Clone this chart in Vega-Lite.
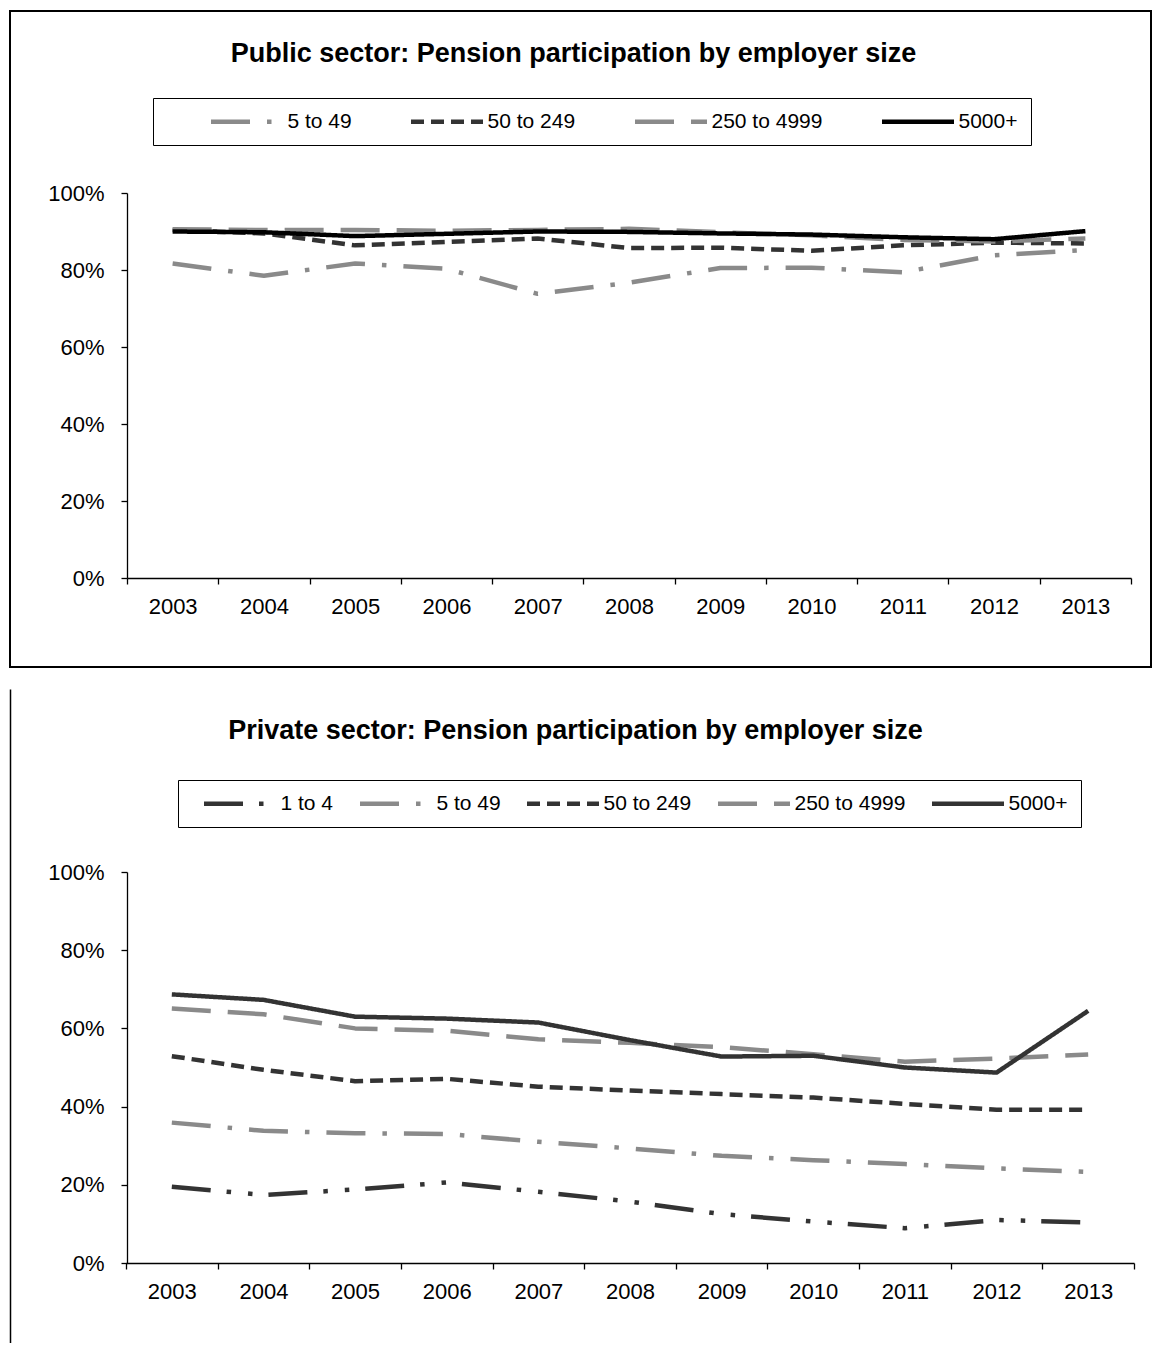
{
  "$schema": "https://vega.github.io/schema/vega-lite/v6.json",
  "background": "white",
  "padding": {"left": 9, "top": 10, "right": 0, "bottom": 0},
  "spacing": 21,
  "resolve": {"scale": {"color": "independent", "strokeDash": "independent"}, "legend": {"color": "independent", "strokeDash": "independent"}},
  "config": {"font": "Liberation Sans"},
  "datasets": {
    "public": [
      {"year": 2003, "size": "5 to 49", "pct": 81.7}, {"year": 2004, "size": "5 to 49", "pct": 78.5}, {"year": 2005, "size": "5 to 49", "pct": 81.7}, {"year": 2006, "size": "5 to 49", "pct": 80.3}, {"year": 2007, "size": "5 to 49", "pct": 73.8}, {"year": 2008, "size": "5 to 49", "pct": 76.7}, {"year": 2009, "size": "5 to 49", "pct": 80.5}, {"year": 2010, "size": "5 to 49", "pct": 80.6}, {"year": 2011, "size": "5 to 49", "pct": 79.4}, {"year": 2012, "size": "5 to 49", "pct": 83.8}, {"year": 2013, "size": "5 to 49", "pct": 85.2},
      {"year": 2003, "size": "50 to 249", "pct": 90.4}, {"year": 2004, "size": "50 to 249", "pct": 89.5}, {"year": 2005, "size": "50 to 249", "pct": 86.4}, {"year": 2006, "size": "50 to 249", "pct": 87.3}, {"year": 2007, "size": "50 to 249", "pct": 88.2}, {"year": 2008, "size": "50 to 249", "pct": 85.7}, {"year": 2009, "size": "50 to 249", "pct": 85.8}, {"year": 2010, "size": "50 to 249", "pct": 85.0}, {"year": 2011, "size": "50 to 249", "pct": 86.4}, {"year": 2012, "size": "50 to 249", "pct": 87.1}, {"year": 2013, "size": "50 to 249", "pct": 86.9},
      {"year": 2003, "size": "250 to 4999", "pct": 90.6}, {"year": 2004, "size": "250 to 4999", "pct": 90.4}, {"year": 2005, "size": "250 to 4999", "pct": 90.4}, {"year": 2006, "size": "250 to 4999", "pct": 90.2}, {"year": 2007, "size": "250 to 4999", "pct": 90.4}, {"year": 2008, "size": "250 to 4999", "pct": 90.7}, {"year": 2009, "size": "250 to 4999", "pct": 89.8}, {"year": 2010, "size": "250 to 4999", "pct": 89.0}, {"year": 2011, "size": "250 to 4999", "pct": 87.8}, {"year": 2012, "size": "250 to 4999", "pct": 87.4}, {"year": 2013, "size": "250 to 4999", "pct": 88.2},
      {"year": 2003, "size": "5000+", "pct": 90.0}, {"year": 2004, "size": "5000+", "pct": 89.8}, {"year": 2005, "size": "5000+", "pct": 88.8}, {"year": 2006, "size": "5000+", "pct": 89.4}, {"year": 2007, "size": "5000+", "pct": 90.0}, {"year": 2008, "size": "5000+", "pct": 89.9}, {"year": 2009, "size": "5000+", "pct": 89.5}, {"year": 2010, "size": "5000+", "pct": 89.2}, {"year": 2011, "size": "5000+", "pct": 88.5}, {"year": 2012, "size": "5000+", "pct": 88.0}, {"year": 2013, "size": "5000+", "pct": 90.1}
    ],
    "private": [
      {"year": 2003, "size": "1 to 4", "pct": 19.5}, {"year": 2004, "size": "1 to 4", "pct": 17.4}, {"year": 2005, "size": "1 to 4", "pct": 18.8}, {"year": 2006, "size": "1 to 4", "pct": 20.6}, {"year": 2007, "size": "1 to 4", "pct": 18.2}, {"year": 2008, "size": "1 to 4", "pct": 15.7}, {"year": 2009, "size": "1 to 4", "pct": 12.5}, {"year": 2010, "size": "1 to 4", "pct": 10.6}, {"year": 2011, "size": "1 to 4", "pct": 8.9}, {"year": 2012, "size": "1 to 4", "pct": 11.0}, {"year": 2013, "size": "1 to 4", "pct": 10.4},
      {"year": 2003, "size": "5 to 49", "pct": 35.9}, {"year": 2004, "size": "5 to 49", "pct": 33.8}, {"year": 2005, "size": "5 to 49", "pct": 33.2}, {"year": 2006, "size": "5 to 49", "pct": 33.0}, {"year": 2007, "size": "5 to 49", "pct": 31.0}, {"year": 2008, "size": "5 to 49", "pct": 29.3}, {"year": 2009, "size": "5 to 49", "pct": 27.4}, {"year": 2010, "size": "5 to 49", "pct": 26.3}, {"year": 2011, "size": "5 to 49", "pct": 25.3}, {"year": 2012, "size": "5 to 49", "pct": 24.2}, {"year": 2013, "size": "5 to 49", "pct": 23.3},
      {"year": 2003, "size": "50 to 249", "pct": 52.9}, {"year": 2004, "size": "50 to 249", "pct": 49.4}, {"year": 2005, "size": "50 to 249", "pct": 46.5}, {"year": 2006, "size": "50 to 249", "pct": 47.1}, {"year": 2007, "size": "50 to 249", "pct": 45.1}, {"year": 2008, "size": "50 to 249", "pct": 44.1}, {"year": 2009, "size": "50 to 249", "pct": 43.2}, {"year": 2010, "size": "50 to 249", "pct": 42.3}, {"year": 2011, "size": "50 to 249", "pct": 40.7}, {"year": 2012, "size": "50 to 249", "pct": 39.2}, {"year": 2013, "size": "50 to 249", "pct": 39.2},
      {"year": 2003, "size": "250 to 4999", "pct": 65.1}, {"year": 2004, "size": "250 to 4999", "pct": 63.6}, {"year": 2005, "size": "250 to 4999", "pct": 60.0}, {"year": 2006, "size": "250 to 4999", "pct": 59.4}, {"year": 2007, "size": "250 to 4999", "pct": 57.2}, {"year": 2008, "size": "250 to 4999", "pct": 56.3}, {"year": 2009, "size": "250 to 4999", "pct": 55.2}, {"year": 2010, "size": "250 to 4999", "pct": 53.4}, {"year": 2011, "size": "250 to 4999", "pct": 51.5}, {"year": 2012, "size": "250 to 4999", "pct": 52.3}, {"year": 2013, "size": "250 to 4999", "pct": 53.3},
      {"year": 2003, "size": "5000+", "pct": 68.7}, {"year": 2004, "size": "5000+", "pct": 67.3}, {"year": 2005, "size": "5000+", "pct": 63.0}, {"year": 2006, "size": "5000+", "pct": 62.5}, {"year": 2007, "size": "5000+", "pct": 61.5}, {"year": 2008, "size": "5000+", "pct": 57.0}, {"year": 2009, "size": "5000+", "pct": 52.8}, {"year": 2010, "size": "5000+", "pct": 53.0}, {"year": 2011, "size": "5000+", "pct": 50.0}, {"year": 2012, "size": "5000+", "pct": 48.7}, {"year": 2013, "size": "5000+", "pct": 64.5}
    ]
  },
  "vconcat": [
    {
      "width": 1141,
      "height": 656,
      "view": {"stroke": "#000000", "strokeWidth": 2},
      "title": {"text": "Public sector: Pension participation by employer size", "fontSize": 27, "fontWeight": "bold", "color": "#000000", "anchor": "middle", "frame": "group", "baseline": "alphabetic", "offset": -78, "dx": -7},
      "data": {"name": "public"},
      "mark": {"type": "line", "strokeWidth": 4.5, "strokeCap": "butt", "strokeJoin": "round"},
      "encoding": {
        "x": {
          "field": "year", "type": "quantitative",
          "scale": {"domain": [2002.5, 2013.5], "range": [117, 1121], "nice": false, "zero": false},
          "axis": {"orient": "bottom", "offset": -89, "title": null, "grid": false,
            "values": [2002.5, 2003, 2003.5, 2004, 2004.5, 2005, 2005.5, 2006, 2006.5, 2007, 2007.5, 2008, 2008.5, 2009, 2009.5, 2010, 2010.5, 2011, 2011.5, 2012, 2012.5, 2013, 2013.5],
            "labelExpr": "datum.value % 1 === 0 ? datum.value : ''",
            "tickOpacity": {"condition": {"test": "datum.value % 1 === 0", "value": 0}, "value": 1},
            "domainColor": "#000000", "domainWidth": 1.3, "tickColor": "#000000", "tickWidth": 1.3, "tickSize": 6,
            "labelFontSize": 22, "labelColor": "#000000", "labelPadding": 12.5, "labelOverlap": false, "labelFlush": false, "labelBound": false}
        },
        "y": {
          "field": "pct", "type": "quantitative",
          "scale": {"domain": [0, 100], "range": [567, 182], "nice": false},
          "axis": {"orient": "left", "offset": -117, "title": null, "grid": false, "values": [0, 20, 40, 60, 80, 100],
            "labelExpr": "datum.value + '%'",
            "domainColor": "#000000", "domainWidth": 1.3, "tickColor": "#000000", "tickWidth": 1.3, "tickSize": 6,
            "labelFontSize": 22, "labelColor": "#000000", "labelPadding": 17}
        },
        "color": {
          "field": "size", "type": "nominal",
          "scale": {"domain": ["5 to 49", "50 to 249", "250 to 4999", "5000+"], "range": ["#8a8a8a", "#333333", "#8a8a8a", "#000000"]},
          "legend": {"orient": "none", "legendX": 143, "legendY": 87, "direction": "horizontal", "title": " ", "titleOrient": "left", "titleFontSize": 21, "titlePadding": 45, "padding": 13, "strokeColor": "#000000", "fillColor": "#ffffff", "symbolType": "M-6,0H6", "symbolSize": 144, "symbolStrokeWidth": 4.5, "symbolOffset": 25.5, "labelOffset": 30, "labelFontSize": 21, "labelColor": "#000000", "columnPadding": 50, "labelLimit": 300}
        },
        "strokeDash": {
          "field": "size", "type": "nominal",
          "scale": {"domain": ["5 to 49", "50 to 249", "250 to 4999", "5000+"], "range": [[39, 17, 4.5, 17], [13, 7], [39, 17], [1, 0]]},
          "legend": {"orient": "none", "legendX": 143, "legendY": 87, "direction": "horizontal", "title": " ", "titleOrient": "left", "titleFontSize": 21, "titlePadding": 45, "padding": 13, "strokeColor": "#000000", "fillColor": "#ffffff", "symbolType": "M-6,0H6", "symbolSize": 144, "symbolStrokeWidth": 4.5, "symbolOffset": 25.5, "labelOffset": 30, "labelFontSize": 21, "labelColor": "#000000", "columnPadding": 50, "labelLimit": 300}
        }
      }
    },
    {
      "width": 1141,
      "height": 654,
      "view": {"stroke": null},
      "title": {"text": "Private sector: Pension participation by employer size", "fontSize": 27, "fontWeight": "bold", "color": "#000000", "anchor": "middle", "frame": "group", "baseline": "alphabetic", "offset": -77, "dx": -5},
      "data": {"name": "private"},
      "layer": [
        {
          "mark": {"type": "line", "strokeWidth": 4.5, "strokeCap": "butt", "strokeJoin": "round"},
          "encoding": {
            "x": {
              "field": "year", "type": "quantitative",
              "scale": {"domain": [2002.5, 2013.5], "range": [116, 1124], "nice": false, "zero": false},
              "axis": {"orient": "bottom", "offset": -80, "title": null, "grid": false,
                "values": [2002.5, 2003, 2003.5, 2004, 2004.5, 2005, 2005.5, 2006, 2006.5, 2007, 2007.5, 2008, 2008.5, 2009, 2009.5, 2010, 2010.5, 2011, 2011.5, 2012, 2012.5, 2013, 2013.5],
                "labelExpr": "datum.value % 1 === 0 ? datum.value : ''",
                "tickOpacity": {"condition": {"test": "datum.value % 1 === 0", "value": 0}, "value": 1},
                "domainColor": "#000000", "domainWidth": 1.3, "tickColor": "#000000", "tickWidth": 1.3, "tickSize": 6,
                "labelFontSize": 22, "labelColor": "#000000", "labelPadding": 12.5, "labelOverlap": false, "labelFlush": false, "labelBound": false}
            },
            "y": {
              "field": "pct", "type": "quantitative",
              "scale": {"domain": [0, 100], "range": [574, 183], "nice": false},
              "axis": {"orient": "left", "offset": -117, "title": null, "grid": false, "values": [0, 20, 40, 60, 80, 100],
                "labelExpr": "datum.value + '%'",
                "domainColor": "#000000", "domainWidth": 1.3, "tickColor": "#000000", "tickWidth": 1.3, "tickSize": 6,
                "labelFontSize": 22, "labelColor": "#000000", "labelPadding": 17}
            },
            "color": {
              "field": "size", "type": "nominal",
              "scale": {"domain": ["1 to 4", "5 to 49", "50 to 249", "250 to 4999", "5000+"], "range": ["#333333", "#8a8a8a", "#333333", "#8a8a8a", "#333333"]},
              "legend": {"orient": "none", "legendX": 168, "legendY": 91, "direction": "horizontal", "title": " ", "titleOrient": "left", "titleFontSize": 21, "titlePadding": 13, "padding": 13, "strokeColor": "#000000", "fillColor": "#ffffff", "symbolType": "M-6,0H6", "symbolSize": 144, "symbolStrokeWidth": 4.5, "symbolOffset": 25.5, "labelOffset": 30, "labelFontSize": 21, "labelColor": "#000000", "columnPadding": 17, "labelLimit": 300}
            },
            "strokeDash": {
              "field": "size", "type": "nominal",
              "scale": {"domain": ["1 to 4", "5 to 49", "50 to 249", "250 to 4999", "5000+"], "range": [[39, 16, 4.5, 17, 4.5, 16], [39, 17, 4.5, 17], [13, 7], [39, 17], [1, 0]]},
              "legend": {"orient": "none", "legendX": 168, "legendY": 91, "direction": "horizontal", "title": " ", "titleOrient": "left", "titleFontSize": 21, "titlePadding": 13, "padding": 13, "strokeColor": "#000000", "fillColor": "#ffffff", "symbolType": "M-6,0H6", "symbolSize": 144, "symbolStrokeWidth": 4.5, "symbolOffset": 25.5, "labelOffset": 30, "labelFontSize": 21, "labelColor": "#000000", "columnPadding": 17, "labelLimit": 300}
            }
          }
        },
        {
          "mark": {"type": "point", "opacity": 0},
          "encoding": {
            "y": {
              "field": "pct", "type": "quantitative",
              "scale": {"domain": [0, 100], "nice": false},
              "axis": {"orient": "left", "offset": 0, "title": null, "grid": false, "ticks": false, "labels": false, "domain": true, "domainColor": "#000000", "domainWidth": 1.5}
            }
          }
        }
      ],
      "resolve": {"scale": {"y": "independent"}, "axis": {"y": "independent"}}
    }
  ]
}
